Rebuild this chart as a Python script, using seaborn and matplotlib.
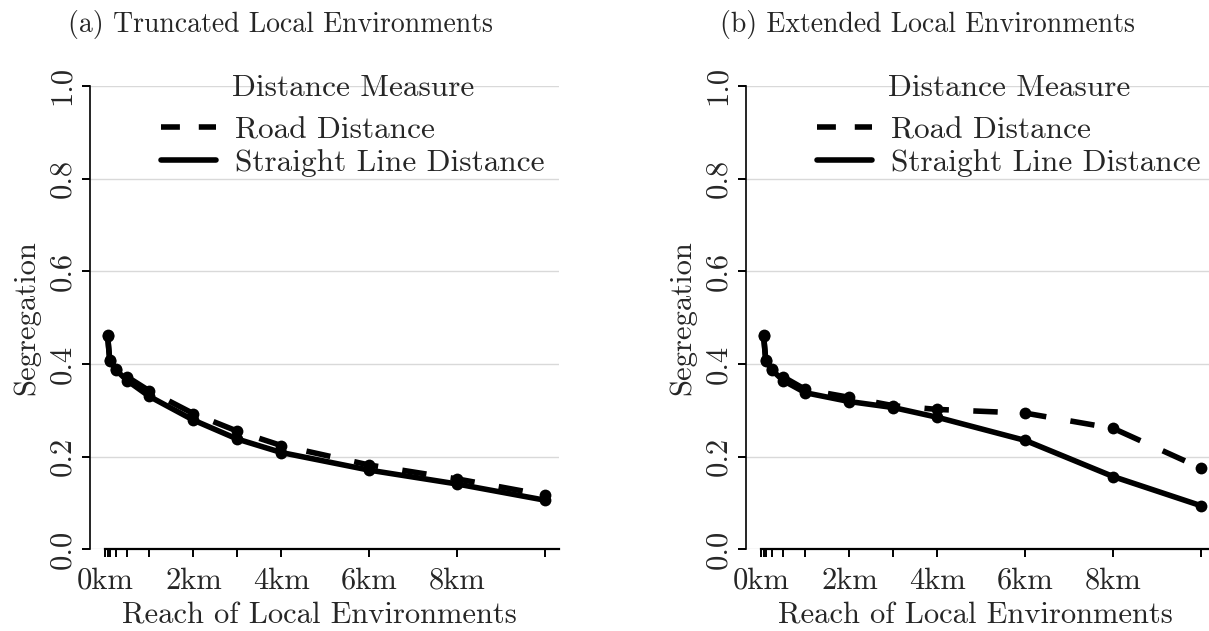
import numpy as np
import pandas as pd
import matplotlib
matplotlib.use('Agg')
import matplotlib.pyplot as plt
from matplotlib.lines import Line2D
import seaborn as sns

# ---------------------------------------------------------------
# Data
# ---------------------------------------------------------------
reach_km = [0.05, 0.1, 0.25, 0.5, 1, 2, 3, 4, 6, 8, 10]

trunc_road = [0.462, 0.408, 0.390, 0.372, 0.342, 0.293, 0.255, 0.224, 0.182, 0.152, 0.117]
trunc_straight = [0.460, 0.406, 0.386, 0.364, 0.330, 0.279, 0.238, 0.209, 0.171, 0.141, 0.106]

ext_road = [0.462, 0.408, 0.390, 0.372, 0.345, 0.328, 0.310, 0.302, 0.294, 0.261, 0.175]
ext_straight = [0.460, 0.406, 0.386, 0.364, 0.338, 0.319, 0.306, 0.285, 0.235, 0.157, 0.094]

major_km = [0, 2, 4, 6, 8]
major_labels = ['0km', '2km', '4km', '6km', '8km']
y_ticks = [0.0, 0.2, 0.4, 0.6, 0.8, 1.0]

series_names = ['Road Distance', 'Straight Line Distance']
panel_titles = ['(a) Truncated Local Environments', '(b) Extended Local Environments']

# ---------------------------------------------------------------
# Style
# ---------------------------------------------------------------
sns.set_theme(style='white')
plt.rcParams['font.family'] = ['cmr10', 'DejaVu Serif']
plt.rcParams['mathtext.fontset'] = 'cm'
plt.rcParams['axes.unicode_minus'] = False
plt.rcParams['axes.formatter.use_mathtext'] = True

W, H = 1209, 631
fig = plt.figure(figsize=(W / 100, H / 100), dpi=100)

# axes boxes in pixels: left edge of y axis, bottom (y=0) and top (y=1)
ax_w, y0_px, y1_px = 469, 549.4, 85.9
lefts = [90, 746]
title_x = [68, 720]

panels = [(trunc_road, trunc_straight), (ext_road, ext_straight)]
lw = 4.0
dash = (0, (4.4, 4.4))

for i, (road, straight) in enumerate(panels):
    ax = fig.add_axes([lefts[i] / W, 1 - y0_px / H, ax_w / W, (y0_px - y1_px) / H])

    sns.lineplot(x=reach_km, y=road, ax=ax, color='black', lw=lw, linestyle=dash,
                 marker='o', markersize=8.5, markeredgewidth=0)
    sns.lineplot(x=reach_km, y=straight, ax=ax, color='black', lw=lw,
                 marker='o', markersize=8.5, markeredgewidth=0)

    ax.set_xlim(-0.35, 10.31)
    ax.set_ylim(0, 1)

    # grid and spines
    ax.set_yticks(y_ticks)
    ax.set_yticklabels([f'{v:.1f}' for v in y_ticks], rotation=90, va='center')
    ax.yaxis.grid(True, color='#d9d9d9', lw=1.0)
    ax.xaxis.grid(False)
    ax.set_axisbelow(True)
    for s in ['top', 'right']:
        ax.spines[s].set_visible(False)
    ax.spines['left'].set_bounds(0, 1)
    ax.spines['left'].set_linewidth(1.2)
    ax.spines['left'].set_color('black')
    ax.spines['bottom'].set_bounds(0, 10.31)
    ax.spines['bottom'].set_linewidth(1.6)
    ax.spines['bottom'].set_color('black')

    ax.set_xticks(major_km)
    ax.set_xticklabels(major_labels)
    ax.set_xticks(reach_km, minor=True)
    ax.tick_params(axis='both', which='both', direction='out', length=6, width=1.4,
                   color='black', labelsize=22, left=True, bottom=True)
    ax.tick_params(axis='x', which='major', pad=7)
    ax.tick_params(axis='y', which='major', pad=4)

    ax.set_xlabel('Reach of Local Environments', fontsize=22)
    ax.xaxis.set_label_coords((319.5 - 90) / ax_w, -0.114)
    ax.set_ylabel('Segregation', fontsize=22)
    ax.yaxis.set_label_coords(-0.107, 0.5)

    handles = [Line2D([], [], color='black', lw=lw, linestyle=(0, (3.4, 3.4))),
               Line2D([], [], color='black', lw=lw)]
    leg = ax.legend(handles, series_names, title='Distance Measure', loc='upper left',
                    bbox_to_anchor=(0.152, 1.025), frameon=False, fontsize=22.5,
                    title_fontsize=22.5, handlelength=1.76, handletextpad=0.6,
                    labelspacing=0.15, borderaxespad=0, borderpad=0)
    # a little more room between the legend title and its entries
    leg._legend_box.sep = 10

    fig.text(title_x[i] / W, 1 - 32 / H, panel_titles[i], ha='left', va='baseline',
             fontsize=20)

fig.savefig('out.png', dpi=100)
